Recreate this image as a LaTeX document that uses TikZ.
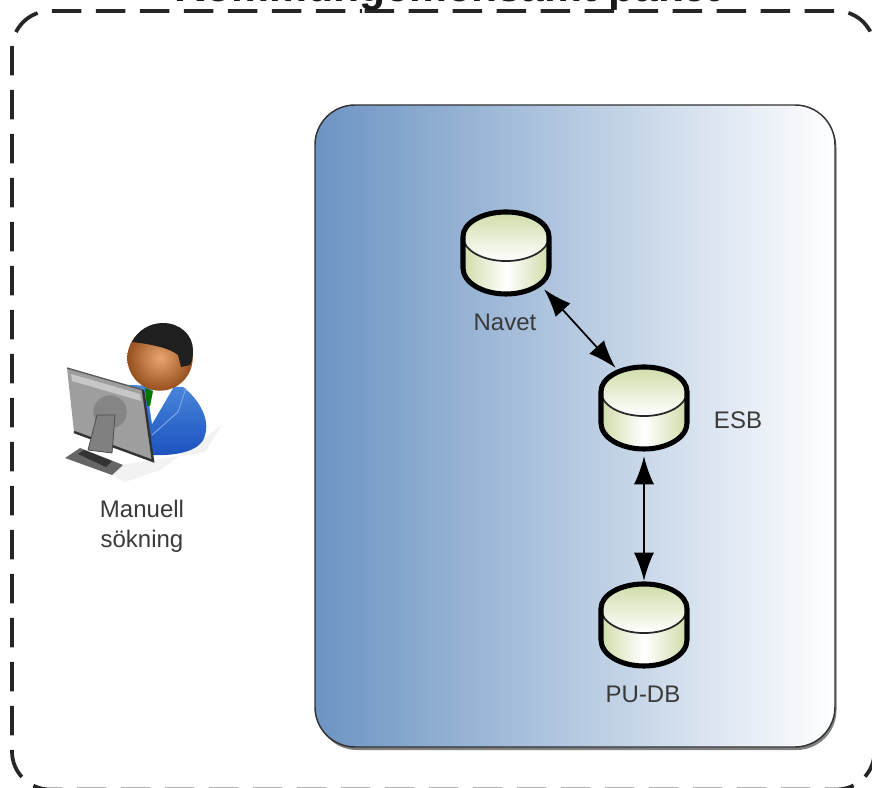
\documentclass[tikz,border=0pt]{standalone}
\usepackage{fontspec}
\setmainfont{Liberation Sans}
\usetikzlibrary{arrows.meta,shapes.geometric}
\definecolor{labelc}{HTML}{3A3A3A}
\definecolor{dbgreen}{HTML}{CFDCA8}
\definecolor{boxblue}{HTML}{6C94C3}
\definecolor{suitlight}{HTML}{4A86DC}
\definecolor{suitdark}{HTML}{1B52BE}
\definecolor{skinlight}{HTML}{E9A571}
\definecolor{skindark}{HTML}{96501E}
\tikzset{
  x=0.75pt,y=-0.75pt,
  framebox/.style={line width=2.8pt,black!85,dash pattern=on 22.125pt off 10.875pt,dash phase=20.55pt,rounded corners=28.5pt},
  bluebox/.style={draw=black!80,line width=1.1pt,rounded corners=30pt,left color=boxblue,right color=white},
  dbanchor/.style={ellipse,minimum width=78pt,minimum height=75pt,inner sep=0pt},
  lbl/.style={font=\fontsize{18}{22.5}\selectfont,text=labelc,align=center,inner sep=0pt},
  link/.style={line width=1.3pt,{Latex[length=21pt,width=15pt]}-{Latex[length=21pt,width=15pt]}},
}
\newcommand{\dbcyl}[3]{%
  \begin{scope}[shift={(#1,#2)}]
    \path[left color=dbgreen,right color=dbgreen,middle color=white]
      (-43,24.5) -- (-43,56) arc[x radius=32.25pt,y radius=19.5pt,start angle=180,end angle=360] -- (43,24.5) -- cycle;
    \path[top color=dbgreen,bottom color=white]
      (0,24.5) ellipse[x radius=32.25pt,y radius=18.4pt];
    \draw[line width=1.3pt,black!85] (-43,24.5) arc[x radius=32.25pt,y radius=18.4pt,start angle=180,end angle=360];
    \draw[line width=3.8pt,black]
      (-43,24.5) arc[x radius=32.25pt,y radius=18.4pt,start angle=180,end angle=0]
      -- (43,56) arc[x radius=32.25pt,y radius=19.5pt,start angle=360,end angle=180] -- cycle;
    \node[dbanchor] (#3) at (0,43) {};
  \end{scope}}
\begin{document}
\begin{tikzpicture}
\useasboundingbox (0,0) rectangle (872,788);
\begin{scope}
\clip (0,0) rectangle (872,788);
\draw[framebox] (400,11) -- (12,11) -- (12,789.5) -- (874.5,789.5) -- (874.5,11) -- cycle;
\node[font=\bfseries\fontsize{32}{40}\selectfont,text=black!90,anchor=base,inner sep=0pt] (title) at (447.5,2) {Kommungemensamt paket};
\end{scope}
% blue panel
\fill[black!50,rounded corners=30pt] (317,108) rectangle (836.5,750);
\path[bluebox] (315,105) rectangle (835,747);
% person
\fill[black!5] (100,468) -- (205,452) -- (222,425) -- (160,470) -- (125,482) -- cycle;
\shade[top color=suitlight,bottom color=suitdark]
  (130,385) -- (183,387) .. controls (200,400) and (210,420) .. (205,435) .. controls (202,450) and (180,456) .. (153,455) -- cycle;
\fill[white] (147,390) -- (173,388) -- (152,424) -- cycle;
\fill[green!45!black] (145,388) -- (153,391) -- (150,406) -- (147,406) -- cycle;
\draw[suitlight!70!white,line width=.7pt] (186,388) -- (178,412) -- (152,435);
\shade[inner color=skinlight,outer color=skindark] (160,358) circle[radius=24.5pt];
\fill[black!88] (132,342) .. controls (138,330) and (150,323) .. (163,323) .. controls (180,323) and (193,335) .. (193,350) .. controls (193,358) and (192,362) .. (190,365) -- (181,367) -- (178,355) .. controls (170,348) and (150,344) .. (132,342) -- cycle;
\fill[black!60] (65,458) -- (80,448) -- (123,465) -- (112,475) -- cycle;
\fill[black!80] (78,454) -- (84,450) -- (112,461) -- (106,467) -- cycle;
\fill[black!38] (67,368) -- (143,390) -- (153,461) -- (74,432) -- cycle;
\fill[black!22] (71,374) -- (140,394) -- (141,401) -- (72,381) -- cycle;
\draw[black!65,line width=1pt] (67,368) -- (143,390);
\draw[black!80,line width=1.8pt] (143,390) -- (153,461) -- (74,432);
\fill[black!48] (110,412) circle[radius=12.5pt];
\fill[black!50,draw=black!70,line width=.6pt] (97,415) -- (115,415) -- (112,453) -- (88,450) -- cycle;
% databases
\dbcyl{506}{212}{navet}
\dbcyl{644}{367}{esb}
\dbcyl{644}{584}{pudb}
\draw[link] (navet.-42) -- (esb.124.6);
\draw[link,shorten <=-3pt,shorten >=-3pt] (esb.south) -- (pudb.north);
% labels
\node[lbl] (navetlabel) at (505,322) {Navet};
\node[lbl] (esblabel) at (738,420) {ESB};
\node[lbl] (pudblabel) at (643,694) {PU-DB};
\node[lbl] (manual) at (142,526) {Manuell\\sökning};
\end{tikzpicture}
\end{document}
